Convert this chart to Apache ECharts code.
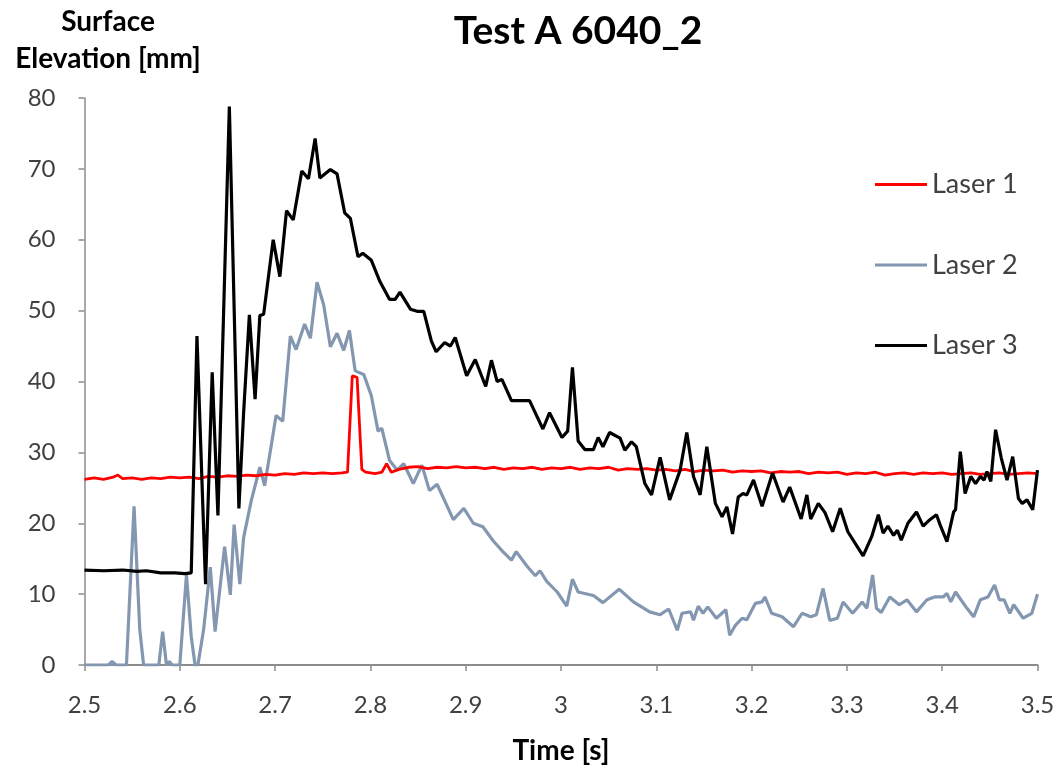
<!DOCTYPE html>
<html>
<head>
<meta charset="utf-8">
<script src="https://cdn.jsdelivr.net/npm/echarts@6/dist/echarts.min.js"></script>
<style>
html,body{margin:0;padding:0;background:#fff;}
#chart{width:1061px;height:766px;}
</style>
</head>
<body>
<div id="chart"></div>
<script>
// ---- Data ----
const xTicks = [2.5, 2.6, 2.7, 2.8, 2.9, 3, 3.1, 3.2, 3.3, 3.4, 3.5];
const yTicks = [0, 10, 20, 30, 40, 50, 60, 70, 80];

const laser1Time = [2.500,2.510,2.520,2.530,2.535,2.540,2.550,2.560,2.570,2.580,2.590,2.600,2.610,2.620,2.630,2.640,2.650,2.660,2.670,2.680,2.690,2.700,2.710,2.720,2.730,2.740,2.750,2.760,2.770,2.776,2.781,2.786,2.791,2.795,2.805,2.812,2.817,2.822,2.830,2.840,2.850,2.860,2.870,2.880,2.890,2.900,2.910,2.920,2.930,2.940,2.950,2.960,2.970,2.980,2.990,3.000,3.010,3.020,3.030,3.040,3.050,3.060,3.070,3.080,3.090,3.100,3.110,3.120,3.130,3.140,3.150,3.160,3.170,3.180,3.190,3.200,3.210,3.220,3.230,3.240,3.250,3.260,3.270,3.280,3.290,3.300,3.310,3.320,3.330,3.340,3.350,3.360,3.370,3.380,3.390,3.400,3.410,3.420,3.430,3.440,3.450,3.460,3.470,3.480,3.490,3.500];
const laser1Vals = [26.2,26.4,26.2,26.5,26.8,26.3,26.4,26.2,26.4,26.3,26.5,26.4,26.5,26.3,26.6,26.5,26.7,26.6,26.8,26.7,26.9,26.8,27.0,26.9,27.1,27.0,27.1,27.0,27.1,27.2,40.8,40.6,27.6,27.2,27.0,27.2,28.4,27.2,27.6,27.9,28.0,27.7,27.9,27.8,28.0,27.8,27.9,27.7,27.9,27.6,27.8,27.7,27.9,27.6,27.8,27.7,27.9,27.6,27.8,27.7,27.9,27.5,27.7,27.6,27.7,27.5,27.6,27.4,27.6,27.3,27.5,27.4,27.5,27.2,27.4,27.3,27.4,27.1,27.3,27.2,27.3,27.0,27.2,27.1,27.2,26.9,27.1,27.0,27.2,26.8,27.0,27.1,26.9,27.1,27.0,27.1,26.9,27.0,27.1,26.9,27.0,27.1,26.9,27.0,27.1,27.0];

const laser2Time = [2.500,2.525,2.529,2.533,2.544,2.552,2.558,2.562,2.578,2.582,2.586,2.589,2.592,2.600,2.607,2.612,2.616,2.619,2.625,2.632,2.637,2.647,2.653,2.657,2.663,2.667,2.675,2.684,2.689,2.696,2.701,2.708,2.716,2.722,2.731,2.737,2.744,2.751,2.758,2.765,2.772,2.778,2.784,2.793,2.801,2.808,2.812,2.820,2.828,2.835,2.845,2.854,2.862,2.870,2.887,2.898,2.908,2.918,2.929,2.939,2.948,2.953,2.964,2.973,2.978,2.985,2.996,3.006,3.012,3.018,3.034,3.044,3.061,3.076,3.093,3.104,3.113,3.122,3.127,3.136,3.139,3.144,3.149,3.154,3.163,3.173,3.177,3.183,3.190,3.195,3.204,3.211,3.214,3.221,3.232,3.244,3.253,3.262,3.268,3.275,3.282,3.290,3.296,3.306,3.316,3.321,3.327,3.331,3.336,3.345,3.355,3.363,3.373,3.384,3.392,3.401,3.405,3.409,3.414,3.426,3.433,3.440,3.448,3.455,3.460,3.465,3.471,3.475,3.485,3.494,3.500];
const laser2Vals = [0,0,0.5,0,0,22.4,5,0,0,4.7,0,0.5,0,0,12.7,4,0,0,5,13.8,4.7,16.7,9.9,19.8,11.4,18.0,23.2,27.9,25.3,31.0,35.2,34.4,46.4,44.5,48.1,46.1,54.0,50.8,44.9,46.8,44.4,47.2,41.5,41.0,38.0,33.0,33.4,28.9,27.5,28.4,25.6,28.2,24.6,25.5,20.5,22.1,20.0,19.5,17.5,16.0,14.8,16.0,14.0,12.6,13.3,11.8,10.3,8.3,12.1,10.3,9.8,8.8,10.7,8.9,7.5,7.1,7.9,4.9,7.3,7.5,6.3,8.3,7.3,8.2,6.6,7.8,4.2,5.6,6.6,6.4,8.7,8.9,9.6,7.3,6.8,5.4,7.3,6.8,7.1,10.8,6.3,6.6,8.9,7.3,8.9,8.0,12.7,8.0,7.4,9.6,8.5,9.2,7.5,9.2,9.6,9.6,10.1,8.9,10.3,8.0,6.8,9.2,9.6,11.3,9.2,9.2,7.3,8.5,6.6,7.3,10.0];

const laser3Time = [2.500,2.520,2.540,2.555,2.565,2.580,2.595,2.605,2.612,2.618,2.627,2.634,2.640,2.652,2.662,2.667,2.673,2.679,2.684,2.688,2.698,2.705,2.712,2.719,2.728,2.735,2.742,2.747,2.758,2.765,2.773,2.779,2.787,2.792,2.801,2.810,2.820,2.826,2.831,2.842,2.849,2.856,2.864,2.869,2.878,2.884,2.889,2.901,2.910,2.921,2.927,2.933,2.938,2.948,2.959,2.967,2.981,2.988,3.001,3.007,3.012,3.018,3.025,3.034,3.039,3.044,3.051,3.062,3.067,3.074,3.079,3.088,3.095,3.104,3.114,3.125,3.132,3.139,3.146,3.153,3.162,3.169,3.174,3.180,3.186,3.191,3.195,3.202,3.211,3.222,3.233,3.240,3.252,3.258,3.262,3.270,3.277,3.285,3.293,3.301,3.317,3.326,3.333,3.338,3.343,3.349,3.353,3.357,3.364,3.373,3.380,3.387,3.394,3.398,3.405,3.412,3.414,3.419,3.424,3.430,3.435,3.440,3.444,3.447,3.451,3.456,3.462,3.468,3.474,3.480,3.484,3.489,3.495,3.500];
const laser3Vals = [13.4,13.3,13.4,13.2,13.3,13.0,13.0,12.9,13.0,46.4,11.4,41.3,21.1,78.8,22.1,35.7,49.4,37.5,49.3,49.5,60.0,54.8,64.1,62.8,69.7,68.6,74.3,68.7,69.9,69.3,63.8,63.0,57.6,58.1,57.1,54.1,51.6,51.6,52.6,50.2,49.9,49.9,45.7,44.2,45.5,45.0,46.2,40.8,43.1,39.3,43.0,40.0,40.3,37.3,37.3,37.3,33.3,35.6,32.1,33.0,42.0,31.6,30.4,30.4,32.1,30.8,32.8,32.0,30.3,31.5,30.8,25.6,24.0,29.3,23.3,27.5,32.8,26.6,24.0,30.8,22.8,20.9,22.3,18.5,23.7,24.2,24.0,26.1,22.4,27.1,23.0,25.1,20.6,24.0,20.6,22.8,21.5,18.8,22.1,18.8,15.4,18.1,21.2,18.6,19.6,18.3,19.0,17.6,20.0,21.6,19.6,20.5,21.2,19.7,17.4,21.6,21.9,30.1,24.2,26.6,25.6,26.6,26.1,27.3,25.9,33.2,29.2,26.1,29.4,23.5,22.8,23.3,21.9,27.5];

const seriesNames = ['Laser 1', 'Laser 2', 'Laser 3'];
const titleText = 'Test A 6040_2';
const yNameLines = ['Surface', 'Elevation [mm]'];
const xNameText = 'Time [s]';

function zip(t, v) { return t.map((x, i) => [x, v[i]]); }

const FONT = 'Lato, "Open Sans", sans-serif';
function label(text, x, y, size) {
  return { type: 'text', x: x, y: y, silent: true,
    style: { text: text, fill: '#000', font: 'bold ' + size + 'px ' + FONT,
      textAlign: 'center', textVerticalAlign: 'middle' } };
}
const chart = echarts.init(document.getElementById('chart'));
chart.setOption({
  animation: false,
  backgroundColor: '#ffffff',
  graphic: [
    label(titleText, 578, 31, 39),
    label(yNameLines[0], 108, 22, 28),
    label(yNameLines[1], 108, 59, 28),
    label(xNameText, 561, 751, 28)
  ],
  legend: {
    orient: 'vertical',
    left: 870,
    top: 166,
    itemWidth: 52,
    itemHeight: 3,
    itemGap: 53.5,
    icon: 'rect',
    data: seriesNames,
    textStyle: { fontFamily: FONT, fontSize: 27, color: '#404040', padding: [0,0,0,0] }
  },
  grid: { left: 84.5, right: 23.5, top: 98, bottom: 101, containLabel: false },
  xAxis: {
    type: 'value', min: xTicks[0], max: xTicks[xTicks.length - 1], interval: 0.1,
    axisLine: { show: true, lineStyle: { color: '#8c8c8c', width: 2 } },
    axisTick: { show: true, length: 6, lineStyle: { color: '#8c8c8c', width: 1.5 } },
    splitLine: { show: false },
    axisLabel: { margin: 28, fontFamily: FONT, fontSize: 24, color: '#404040',
      formatter: v => String(Math.round(v * 10) / 10) }
  },
  yAxis: {
    type: 'value', min: yTicks[0], max: yTicks[yTicks.length - 1], interval: 10,
    axisLine: { show: true, lineStyle: { color: '#8c8c8c', width: 1.5 } },
    axisTick: { show: true, length: 6, lineStyle: { color: '#8c8c8c', width: 1.5 } },
    splitLine: { show: false },
    axisLabel: { margin: 29, fontFamily: FONT, fontSize: 24, color: '#404040' }
  },
  series: [
    { name: seriesNames[0], type: 'line', showSymbol: false, symbol: 'none', z: 3,
      data: zip(laser1Time, laser1Vals), color: '#ff0000',
      lineStyle: { color: '#ff0000', width: 2.8 } },
    { name: seriesNames[1], type: 'line', showSymbol: false, symbol: 'none', z: 2,
      data: zip(laser2Time, laser2Vals), color: '#8497b0',
      lineStyle: { color: '#8497b0', width: 3.2 } },
    { name: seriesNames[2], type: 'line', showSymbol: false, symbol: 'none', z: 4,
      data: zip(laser3Time, laser3Vals), color: '#000000',
      lineStyle: { color: '#000000', width: 3.2 } }
  ]
});
</script>
</body>
</html>
